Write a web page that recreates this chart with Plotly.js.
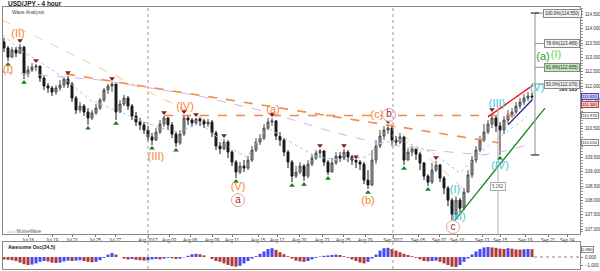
<!DOCTYPE html>
<html><head><meta charset="utf-8">
<script src="https://cdn.plot.ly/plotly-3.0.1.min.js"></script>
<style>html,body{margin:0;padding:0;background:#fff}#chart{width:600px;height:271px}</style>
</head><body><div id="chart"></div>
<script>
// ---- candle data (4h USD/JPY) ----
const opens = [113.54,113.33,113.01,113.26,113.15,113.36,112.42,112.56,112.66,112.70,
112.28,112.00,111.93,111.79,111.93,112.03,112.24,112.07,111.58,111.16,
111.30,111.09,110.88,111.06,111.23,111.51,111.86,112.00,112.07,111.09,
111.37,111.58,111.30,110.95,110.74,110.64,110.46,110.22,110.11,110.39,
110.67,110.88,110.64,110.32,110.01,110.32,110.88,110.81,110.71,110.85,
110.78,110.67,110.74,110.36,109.90,109.80,110.04,109.69,109.34,108.99,
109.20,109.13,109.41,109.76,110.04,110.18,110.53,110.74,110.78,110.25,
110.11,109.69,109.34,108.85,108.99,109.20,108.85,109.27,109.48,109.66,
109.73,109.34,108.99,109.31,109.55,109.48,109.69,109.52,109.41,109.34,
109.27,108.71,108.54,109.41,109.90,110.25,110.46,110.53,110.11,110.04,
110.22,109.41,109.69,109.80,109.62,109.31,108.85,108.64,109.06,109.24,
108.78,108.43,108.01,107.52,108.01,107.73,108.29,108.89,109.41,109.76,
110.11,110.39,110.67,110.88,110.60,110.46,110.81,110.99,111.09,111.30,
111.44,111.58,111.65];
const highs = [113.68,113.40,113.36,113.36,113.47,113.40,112.70,112.80,112.77,112.70,
112.35,112.10,112.00,112.03,112.21,112.31,112.35,112.14,111.65,111.44,
111.37,111.23,111.16,111.37,111.58,111.93,112.07,112.14,112.07,111.51,
111.69,111.65,111.37,111.09,110.88,110.74,110.60,110.36,110.53,110.81,
110.95,110.92,110.74,110.39,110.46,110.99,110.95,110.88,110.88,110.92,
110.85,110.85,110.81,110.43,110.04,110.15,110.11,109.76,109.41,109.34,
109.41,109.55,109.90,110.18,110.32,110.67,110.88,110.88,110.81,110.39,
110.18,109.76,109.41,109.20,109.34,109.27,109.41,109.62,109.76,109.80,
109.76,109.41,109.48,109.69,109.69,109.80,109.76,109.59,109.41,109.41,
109.34,109.06,109.76,110.11,110.46,110.60,110.64,110.60,110.25,110.36,
110.25,109.83,109.90,109.83,109.69,109.34,108.92,109.31,109.38,109.27,
108.85,108.50,108.08,108.15,108.08,108.43,109.06,109.55,109.90,110.25,
110.67,110.81,111.06,110.95,110.74,110.95,111.16,111.23,111.44,111.58,
111.72,111.79,111.76];
const lows = [113.19,112.87,112.98,113.01,113.12,112.24,112.31,112.49,112.52,112.14,
111.86,111.76,111.65,111.69,111.83,111.93,111.93,111.44,111.02,111.06,
110.95,110.64,110.81,110.99,111.16,111.44,111.72,111.79,110.81,111.06,
111.30,111.16,110.81,110.60,110.46,110.32,110.08,109.94,110.08,110.32,
110.57,110.46,110.18,109.87,109.94,110.25,110.64,110.57,110.64,110.60,
110.53,110.57,110.22,109.76,109.62,109.76,109.48,109.20,108.78,108.92,
108.99,109.06,109.34,109.69,109.94,110.11,110.46,110.60,110.11,109.90,
109.55,109.13,108.64,108.78,108.92,108.68,108.78,109.20,109.41,109.48,
109.20,108.89,108.99,109.24,109.34,109.41,109.34,109.24,109.13,109.06,
108.57,108.40,108.50,109.27,109.83,110.11,110.32,109.90,109.90,109.97,
109.24,109.41,109.55,109.41,109.06,108.71,108.50,108.57,108.99,108.64,
108.22,107.80,107.31,107.38,107.56,107.66,108.29,108.78,109.31,109.69,
110.04,110.32,110.53,110.39,109.59,110.32,110.67,110.88,111.02,111.20,
111.34,111.48,111.51];
const closes = [113.33,113.01,113.26,113.15,113.36,112.42,112.56,112.66,112.70,112.28,
112.00,111.93,111.79,111.93,112.03,112.24,112.07,111.58,111.16,111.30,
111.09,110.88,111.06,111.23,111.51,111.86,112.00,112.07,111.09,111.37,
111.58,111.30,110.95,110.74,110.64,110.46,110.22,110.11,110.39,110.67,
110.88,110.64,110.32,110.01,110.32,110.88,110.81,110.71,110.85,110.78,
110.67,110.74,110.36,109.90,109.80,110.04,109.69,109.34,108.99,109.20,
109.13,109.41,109.76,110.04,110.18,110.53,110.74,110.78,110.25,110.11,
109.69,109.34,108.85,108.99,109.20,108.85,109.27,109.48,109.66,109.73,
109.34,108.99,109.31,109.55,109.48,109.69,109.52,109.41,109.34,109.27,
108.71,108.54,109.41,109.90,110.25,110.46,110.53,110.11,110.04,110.22,
109.41,109.69,109.80,109.62,109.31,108.85,108.64,109.06,109.24,108.78,
108.43,108.01,107.52,108.01,107.73,108.29,108.89,109.41,109.76,110.11,
110.39,110.67,110.88,110.60,110.46,110.81,110.99,111.09,111.30,111.44,
111.58,111.65,111.62];

// Awesome Oscillator (34,5)
const aoValues = [-0.3,-0.35,-0.4,-0.5,-0.7,-0.9,-1.0,-0.95,-0.8,-0.6,
-0.5,-0.55,-0.7,-0.75,-0.7,-0.55,-0.45,-0.5,-0.45,-0.4,
-0.5,-0.6,-0.65,-0.6,-0.4,-0.1,0.3,0.5,0.3,0.0,
-0.2,-0.3,-0.25,-0.35,-0.4,-0.45,-0.4,-0.3,-0.25,-0.3,
-0.2,-0.1,-0.15,-0.25,-0.2,-0.05,0.15,0.35,0.4,0.35,
0.2,0.0,-0.25,-0.5,-0.6,-0.8,-1.0,-1.15,-1.2,-1.1,
-0.8,-0.5,-0.2,0.1,0.4,0.7,1.0,1.1,0.9,0.6,
0.35,0.1,-0.2,-0.45,-0.55,-0.6,-0.5,-0.3,-0.1,0.05,
0.15,0.2,0.25,0.3,0.25,0.1,-0.1,-0.3,-0.5,-0.7,
-0.8,-0.6,-0.2,0.3,0.8,1.1,1.15,1.0,0.8,0.6,
0.4,0.25,0.1,-0.1,-0.3,-0.5,-0.55,-0.5,-0.45,-0.6,
-0.8,-1.0,-1.2,-1.25,-1.0,-0.6,-0.2,0.3,0.7,1.0,
1.2,1.25,1.2,1.15,1.05,1.0,1.1,1.05,0.95,0.92,
0.97,1.0,0.98];

// time axis ticks (bar slot -> label)
const tickSlots = [6,12,17,22.75,27.75,36,41.25,46.5,52,57,63.5,68.25,73.75,79.5,84.75,90.25,97.25,103.5,108.75,113.25,119.5,124,130.25,136,140.75];
const tickLabels = ["Jul 16","Jul 19","Jul 21","Jul 25","Jul 27","Aug 2017","Aug 03","Aug 06","Aug 09","Aug 11","Aug 15","Aug 17","Aug 20","Aug 23","Aug 25","Aug 29","Sep 2017","Sep 05","Sep 07","Sep 10","Sep 13","Sep 15","Sep 19","Sep 21","Sep 24"];
const priceTicks = [107.0,107.5,108.0,108.5,109.0,109.5,110.0,110.5,111.0,111.5,112.0,112.5,113.0,113.5,114.0,114.5];

// moving averages
const maFastX = [-0.25,4,9,14.75,21.5,32.25,39,44,49,57.25,60.75,65.75,70.75,78.25,84,90.75,94,99,107.25,114,119.75,124,130.75];
const maFastY = [113.78,113.26,112.84,112.31,111.51,110.92,110.53,110.39,110.71,109.76,109.52,110.57,110.11,109.52,109.41,109.52,110.01,110.11,109.66,108.96,109.76,110.22,110.92];
const maSlowX = [-0.25,24,49,65.75,82.25,93.25,99,106.5,114,119.75,126.5,130.75];
const maSlowY = [112.49,112.21,111.65,111.09,110.39,110.01,109.90,109.76,109.66,109.59,109.76,109.94];

// trend lines [slot0, slot1], [price0, price1]
const resistX = [15.5,124], resistY = [112.42,110.01];
const levelX = [40,130], levelY = [110.97,110.97];
const peachAX = [-0.5,51.5], peachAY = [114.31,110.74];
const peachBX = [96.25,115.25], peachBY = [110.74,108.36];
const redX = [121,132.25], redY = [110.92,112.03];
const navyX = [126,132], navyY = [110.64,111.51];
const greenX = [112.75,135.25], greenY = [107.31,111.23];
const measureSlot = 123.5, measureTop = 111.30;

// Fibonacci extension
const fibSlot = 132.75, fibLow = 109.59, fibHigh = 114.55;
const fibRatios = [1.0,0.786,0.618,0.5];

// swing markers (bar indices)
const swingHighIdx = [4,8,16,27,40,45,48,55,67,79,85,88,96,108,122];
const swingLowIdx = [1,5,21,28,37,43,58,72,75,81,91,100,106,124];

// wave labels
const orangeX = [1,3.5,38,45.25,58.5,67.25,91,93.25];
const orangeY = [112.56,113.82,109.52,111.27,108.47,111.16,107.98,110.99];
const orangeT = ["(I)","(II)","(III)","(IV)","(V)","(a)","(b)","(c)"];
const circX = [58.5,96.25,112.25];
const circY = [108.01,110.99,107.07];
const circT = ["a","b","c"];
const cyanX = [112.75,113.75,123.25,124,133.25];
const cyanY = [108.36,107.42,111.37,109.20,111.93];
const cyanT = ["(I)","(II)","(III)","(IV)","(V)"];
const greenLblX = [134.75,138];
const greenLblY = [113.01,113.08];
const greenLblT = ["(a)","(I)"];
const askPrice = 111.34;

const FONT = "Liberation Sans, Arial, sans-serif";
const idx = closes.map((_, i) => i);

const traces = [];
function line(x, y, color, width, dash, xa, ya) {
  traces.push({type:'scatter', mode:'lines', x, y, line:{color, width, dash}, hoverinfo:'skip', xaxis:xa||'x', yaxis:ya||'y'});
}
line(maSlowX, maSlowY, '#d8b0e8', 1, 'dash');
line(maFastX, maFastY, '#a8c4f4', 1, 'dot');
line(peachAX, peachAY, '#f8c890', 1, 'dash');
line(peachBX, peachBY, '#f8c090', 1, 'dash');
line(resistX, resistY, '#f4894a', 1.6, 'dash');
line(levelX, levelY, '#f4894a', 1.6, 'dash');

traces.push({type:'candlestick', x:idx, open:opens, high:highs, low:lows, close:closes,
  increasing:{line:{color:'#4a4a4a', width:1}, fillcolor:'#a8a8a8'},
  decreasing:{line:{color:'#1a1a1a', width:1}, fillcolor:'#1a1a1a'},
  whiskerwidth:0, hoverinfo:'skip', xaxis:'x', yaxis:'y'});

line(redX, redY, '#e8101a', 1.3, 'solid');
line(navyX, navyY, '#1a1a9a', 1.3, 'solid');
line(greenX, greenY, '#1a8a1a', 1.3, 'solid');
line([measureSlot, measureSlot], [measureTop, 106.83], '#b0b0b0', 1, 'solid');

// fib drawing
const fibLevels = fibRatios.map(r => fibLow + r * (fibHigh - fibLow));
line([fibSlot, fibSlot], [fibLow, fibHigh], '#a0a0a0', 1.2, 'solid');
fibLevels.forEach(v => line([fibSlot, fibSlot + 3.4], [v, v], '#909090', 1, 'solid'));
traces.push({type:'scatter', mode:'markers', x:[fibSlot, fibSlot], y:[fibLow, fibHigh],
  marker:{symbol:'line-ew', size:6, line:{color:'#555', width:1.5}}, hoverinfo:'skip'});

// swing markers
traces.push({type:'scatter', mode:'markers', x:swingHighIdx, y:swingHighIdx.map(i => highs[i] + 0.12),
  marker:{symbol:'triangle-down', size:5, color:'#7a1f1f'}, hoverinfo:'skip'});
traces.push({type:'scatter', mode:'markers', x:swingLowIdx, y:swingLowIdx.map(i => lows[i] - 0.12),
  marker:{symbol:'triangle-up', size:5, color:'#1f7a1f'}, hoverinfo:'skip'});

// labels
traces.push({type:'scatter', mode:'text', x:orangeX, y:orangeY, text:orangeT,
  textfont:{family:FONT, size:11, color:'#f5842c'}, hoverinfo:'skip'});
traces.push({type:'scatter', mode:'markers+text', x:circX, y:circY, text:circT,
  marker:{symbol:'circle', size:13, color:'rgba(255,255,255,0.9)', line:{color:'#e8a0a0', width:1}},
  textposition:'middle center', textfont:{family:FONT, size:10, color:'#a52a2a'}, hoverinfo:'skip'});
traces.push({type:'scatter', mode:'text', x:cyanX, y:cyanY, text:cyanT,
  textfont:{family:FONT, size:11, color:'#3cc8d8'}, hoverinfo:'skip'});
traces.push({type:'scatter', mode:'text', x:greenLblX, y:greenLblY, text:greenLblT,
  textfont:{family:FONT, size:11, color:['#2a9a2a','#50e050']}, hoverinfo:'skip'});

// awesome oscillator
const aoColors = aoValues.map((v, i) => (i > 0 && v > aoValues[i-1]) ? '#4848f0' : '#b03a3a');
traces.push({type:'bar', x:idx, y:aoValues, marker:{color:aoColors, line:{width:0}},
  xaxis:'x2', yaxis:'y2', hoverinfo:'skip'});

const annotations = [];
function note(text, x, y, opts) {
  annotations.push(Object.assign({text, x, y, showarrow:false, font:{family:FONT, size:5, color:'#222'}}, opts));
}
note('<b>USD/JPY - 4 hour</b>', 0.006, 0.993, {xref:'paper', yref:'paper', xanchor:'left', yanchor:'middle', font:{family:FONT, size:6.5, color:'#222'}});
note('Wave Analysis', 0.012, 0.963, {xref:'paper', yref:'paper', xanchor:'left', yanchor:'middle', font:{family:FONT, size:5, color:'#444'}});
note('○○○ MotiveWave', 0.004, 0.142, {xref:'paper', yref:'paper', xanchor:'left', yanchor:'middle', font:{family:FONT, size:4.5, color:'#555'}});
note('<b>Awesome Osc(34,5)</b>', 0.006, 0.082, {xref:'paper', yref:'paper', xanchor:'left', yanchor:'middle', font:{family:FONT, size:5, color:'#222'}});
note('<b>5vs 1x3</b>', 141, 111.90, {xref:'x', yref:'y', font:{family:FONT, size:5, color:'#111'}});
note('5.262', measureSlot, 108.50, {xref:'x', yref:'y', bgcolor:'#fff', bordercolor:'#aaa', borderwidth:1, borderpad:1, font:{family:FONT, size:4.5, color:'#555'}});
const fibNames = ['100.0%','78.6%','61.8%','50.0%'];
fibLevels.forEach((v, k) => note(fibNames[k] + '(' + v.toFixed(3) + ')', 139.6, v,
  {xref:'x', yref:'y', bgcolor: k === 2 ? '#c4e8b8' : '#f4f4f4', bordercolor:'#888', borderwidth:1, borderpad:1, font:{family:FONT, size:4.5, color:'#222'}}));
const axisBoxes = [[closes[closes.length-1], '#c8c8ff', '#4040c0'], [askPrice, '#ffc8c8', '#c04040'], [levelY[0], '#ffffff', '#888'], [resistY[1], '#ffffff', '#888']];
axisBoxes.forEach(b => note(b[0].toFixed(3), 1, b[0], {xref:'paper', yref:'y', xanchor:'left', xshift:1, bgcolor:b[1], bordercolor:b[2], borderwidth:1, borderpad:0, font:{family:FONT, size:4.3, color:'#222'}}));
note(aoValues[aoValues.length-1].toFixed(3), 1, aoValues[aoValues.length-1], {xref:'paper', yref:'y2', xanchor:'left', xshift:1, bgcolor:'#fff', bordercolor:'#888', borderwidth:1, borderpad:0, font:{family:FONT, size:4.3, color:'#222'}});

// tick labels hidden where a price box covers them (as in the reference)
const shownTicks = priceTicks.filter(t => axisBoxes.every(b => Math.abs(b[0] - t) > 0.1));

const shapes = [];
tickLabels.forEach((t, k) => {
  if (t.indexOf('2017') >= 0) shapes.push({type:'line', xref:'x', yref:'paper', x0:tickSlots[k], x1:tickSlots[k], y0:0, y1:0.981, line:{color:'#9a9a9a', width:1, dash:'dot'}});
});
shapes.push({type:'line', xref:'x2', yref:'y2', x0:idx.length - 0.5, x1:144, y0:0, y1:0, line:{color:'#888', width:1, dash:'dot'}});

const tickFont = {family:FONT, size:4.5, color:'#333'};
const layout = {
  width:600, height:271, margin:{l:3, r:20, t:2, b:2},
  paper_bgcolor:'#fff', plot_bgcolor:'#fff', showlegend:false, bargap:0.25,
  xaxis:{range:[-0.25,144], anchor:'y', tickvals:tickSlots, ticktext:tickLabels, tickfont:tickFont, tickangle:0,
    ticks:'outside', ticklen:2, tickcolor:'#777', showline:true, linecolor:'#888', mirror:true,
    showgrid:false, zeroline:false, rangeslider:{visible:false}, fixedrange:true},
  yaxis:{domain:[0.131,0.981], range:[106.825,114.76], side:'right', tickvals:shownTicks, tickformat:'.3f',
    tickfont:tickFont, ticks:'outside', ticklen:2, tickcolor:'#777', showline:true, linecolor:'#888', mirror:true,
    showgrid:false, zeroline:false, ticklabelstandoff:1, minor:{ticks:'outside', ticklen:1.5, dtick:0.1, tickcolor:'#999'}},
  xaxis2:{matches:'x', anchor:'y2', showticklabels:false, ticks:'', showline:true, linecolor:'#888', mirror:true,
    showgrid:false, zeroline:false, rangeslider:{visible:false}},
  yaxis2:{domain:[0,0.101], range:[-1.5,1.875], side:'right', tickvals:[0,-1], tickformat:'.3f', tickfont:tickFont,
    ticks:'outside', ticklen:2, tickcolor:'#777', showline:true, linecolor:'#888', mirror:true, showgrid:false, zeroline:false, ticklabelstandoff:1},
  annotations, shapes
};
Plotly.newPlot('chart', traces, layout, {staticPlot:true, displayModeBar:false});
</script>
</body></html>
